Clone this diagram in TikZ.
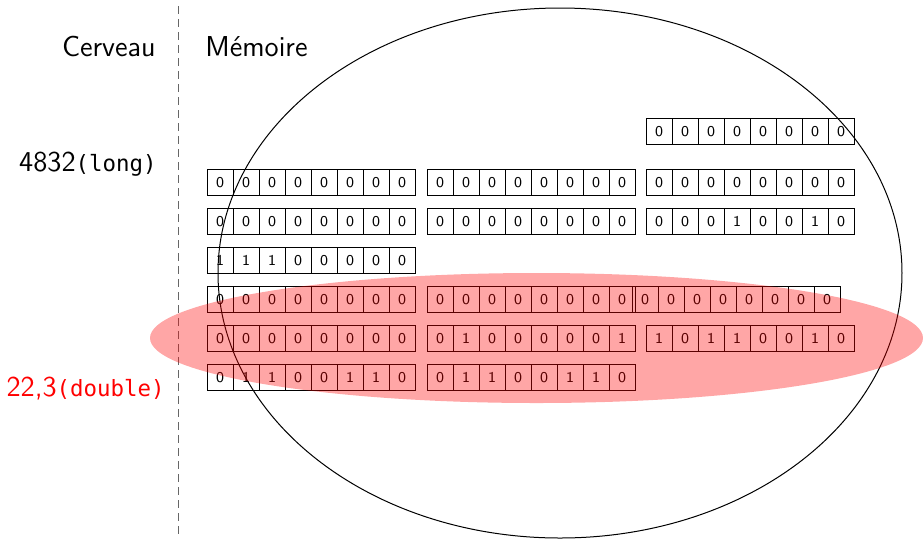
\documentclass[tikz,border=0pt]{standalone}
\usepackage{fontspec}
\setmonofont{DejaVu Sans Mono}
\begin{document}
\begin{tikzpicture}[x=0.5pt,y=-0.5pt,
  cell/.style={draw, line width=0.45pt, minimum width=13pt, minimum height=12.75pt, inner sep=0pt, font=\fontsize{7.5}{8}\sffamily},
  txt/.style={inner sep=0pt, font=\fontsize{14.4}{17}\sffamily}]
\useasboundingbox (0,0) rectangle (923,538);
\newcommand\byterow[4]{\foreach \b [count=\i] in {#4} {\node[cell] (#1-\i) at ({#2+26*\i-13},#3) {\b};}}
% separator
\coordinate (septop) at (178,6);
\coordinate (sepbot) at (178,538);
\draw[black!60, line width=0.5pt, dash pattern=on 4pt off 2.5pt] (septop) -- (sepbot);
% labels
\node[txt, anchor=base east] (cerveau) at (156,56) {Cerveau};
\node[txt, anchor=base west] (memoire) at (205,56) {Mémoire};
\node[txt, anchor=base east] (long) at (157,171) {4832{\fontsize{11.2}{13}\ttfamily(long)}};
\node[txt, anchor=base east, text=red] (dbl) at (165,396) {22,3{\fontsize{11.2}{13}\ttfamily(double)}};
% memory
\draw[line width=0.5pt] (560,273) ellipse [x radius=171pt, y radius=132.5pt];
\byterow{a}{646}{131.3}{0,0,0,0,0,0,0,0}
\byterow{r1g1}{207}{182.5}{0,0,0,0,0,0,0,0}
\byterow{r1g2}{427}{182.5}{0,0,0,0,0,0,0,0}
\byterow{r1g3}{646}{182.5}{0,0,0,0,0,0,0,0}
\byterow{r2g1}{207}{221.5}{0,0,0,0,0,0,0,0}
\byterow{r2g2}{427}{221.5}{0,0,0,0,0,0,0,0}
\byterow{r2g3}{646}{221.5}{0,0,0,1,0,0,1,0}
\byterow{r3g1}{207}{260.5}{1,1,1,0,0,0,0,0}
\byterow{r4g1}{207}{299.5}{0,0,0,0,0,0,0,0}
\byterow{r4g2}{427}{299.5}{0,0,0,0,0,0,0,0}
\byterow{r4g3}{632}{299.5}{0,0,0,0,0,0,0,0}
\byterow{r5g1}{207}{338.5}{0,0,0,0,0,0,0,0}
\byterow{r5g2}{427}{338.5}{0,1,0,0,0,0,0,1}
\byterow{r5g3}{646}{338.5}{1,0,1,1,0,0,1,0}
\byterow{r6g1}{207}{377.5}{0,1,1,0,0,1,1,0}
\byterow{r6g2}{427}{377.5}{0,1,1,0,0,1,1,0}
% highlight
\fill[red, opacity=0.35] (536.5,338) ellipse [x radius=193.25pt, y radius=32.5pt];
\end{tikzpicture}
\end{document}
